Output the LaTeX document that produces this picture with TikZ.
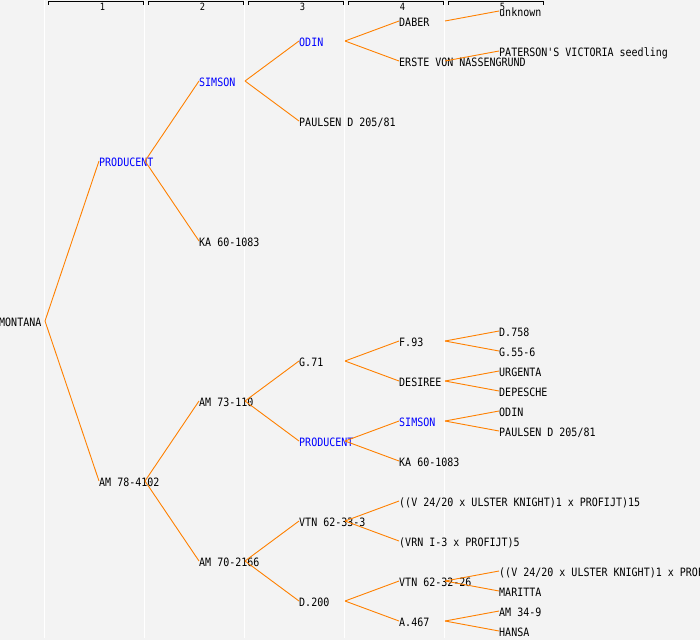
\documentclass[tikz,border=0pt]{standalone}
\usepackage{xcolor}
\usepackage{fontspec}
\newfontfamily\pedfont[FakeStretch=0.87]{DejaVu Sans Mono}
\usepackage{tikz}
\definecolor{linkorange}{RGB}{255,128,0}
\definecolor{colback}{RGB}{243,243,243}
\tikzstyle{var} = [anchor=west, inner sep=0pt,
    text height=10pt, text depth=0pt, font=\pedfont\fontsize{11.5}{12}\selectfont]
\tikzstyle{dup} = [var, text=blue]
\tikzstyle{link} = [draw=linkorange, line width=0.9pt]
\tikzstyle{sep} = [draw=white, line width=1pt]
\tikzstyle{bracket} = [draw=black, line width=0.9pt]
\tikzstyle{gen} = [anchor=base, inner sep=0pt, font=\pedfont\fontsize{10}{10}\selectfont]
\usetikzlibrary{calc}

\begin{document}
\begin{tikzpicture}[x=1pt,y=-1pt]
    \fill[colback] (0,0) rectangle (700,640);
    \useasboundingbox (0,0) rectangle (700,640);

    \draw[sep] (44.5,0) -- (44.5,637.5);
    \draw[sep] (144.5,0) -- (144.5,637.5);
    \draw[sep] (244.5,0) -- (244.5,637.5);
    \draw[sep] (344.5,0) -- (344.5,637.5);
    \draw[sep] (444.5,0) -- (444.5,637.5);

    \draw[bracket] (48,4.5) -- (48,1.5) -- (143,1.5) -- (143,4.5);
    \draw[bracket] (148,4.5) -- (148,1.5) -- (243,1.5) -- (243,4.5);
    \draw[bracket] (248,4.5) -- (248,1.5) -- (343,1.5) -- (343,4.5);
    \draw[bracket] (348,4.5) -- (348,1.5) -- (443,1.5) -- (443,4.5);
    \draw[bracket] (448,4.5) -- (448,1.5) -- (543,1.5) -- (543,4.5);
    \node[gen] (gen1) at (102.5,10) {1};
    \node[gen] (gen2) at (202.5,10) {2};
    \node[gen] (gen3) at (302.5,10) {3};
    \node[gen] (gen4) at (402.5,10) {4};
    \node[gen] (gen5) at (502.5,10) {5};

    \node[var] (montana) at (-1,321) {MONTANA};

    \node[dup] (producent) at (99,161) {PRODUCENT};
    \node[var] (am78) at (99,481) {AM 78-4102};

    \node[dup] (simson) at (199,81) {SIMSON};
    \node[var] (ka60) at (199,241) {KA 60-1083};
    \node[var] (am73) at (199,401) {AM 73-110};
    \node[var] (am70) at (199,561) {AM 70-2166};

    \node[dup] (odin) at (299,41) {ODIN};
    \node[var] (paulsen) at (299,121) {PAULSEN D 205/81};
    \node[var] (g71) at (299,361) {G.71};
    \node[dup] (producentb) at (299,441) {PRODUCENT};
    \node[var] (vtn33) at (299,521) {VTN 62-33-3};
    \node[var] (d200) at (299,601) {D.200};

    \node[var] (daber) at (399,21) {DABER};
    \node[var] (erste) at (399,61) {ERSTE VON NASSENGRUND};
    \node[var] (f93) at (399,341) {F.93};
    \node[var] (desiree) at (399,381) {DESIREE};
    \node[dup] (simsonb) at (399,421) {SIMSON};
    \node[var] (ka60b) at (399,461) {KA 60-1083};
    \node[var] (vulster) at (399,501) {((V 24/20 x ULSTER KNIGHT)1 x PROFIJT)15};
    \node[var] (vrn) at (399,541) {(VRN I-3 x PROFIJT)5};
    \node[var] (vtn32) at (399,581) {VTN 62-32-26};
    \node[var] (a467) at (399,621) {A.467};

    \node[var] (unknown) at (499,11) {unknown};
    \node[var] (paterson) at (499,51) {PATERSON'S VICTORIA seedling};
    \node[var] (d758) at (499,331) {D.758};
    \node[var] (g55) at (499,351) {G.55-6};
    \node[var] (urgenta) at (499,371) {URGENTA};
    \node[var] (depesche) at (499,391) {DEPESCHE};
    \node[var] (odinb) at (499,411) {ODIN};
    \node[var] (paulsenb) at (499,431) {PAULSEN D 205/81};
    \node[var] (vulsterb) at (499,571) {((V 24/20 x ULSTER KNIGHT)1 x PROF};
    \node[var] (maritta) at (499,591) {MARITTA};
    \node[var] (am34) at (499,611) {AM 34-9};
    \node[var] (hansa) at (499,631) {HANSA};

    \draw[link] ([xshift=46pt]montana.west) -- (producent.west);
    \draw[link] ([xshift=46pt]montana.west) -- (am78.west);

    \draw[link] ([xshift=46pt]producent.west) -- (simson.west);
    \draw[link] ([xshift=46pt]producent.west) -- (ka60.west);
    \draw[link] ([xshift=46pt]am78.west) -- (am73.west);
    \draw[link] ([xshift=46pt]am78.west) -- (am70.west);

    \draw[link] ([xshift=46pt]simson.west) -- (odin.west);
    \draw[link] ([xshift=46pt]simson.west) -- (paulsen.west);
    \draw[link] ([xshift=46pt]am73.west) -- (g71.west);
    \draw[link] ([xshift=46pt]am73.west) -- (producentb.west);
    \draw[link] ([xshift=46pt]am70.west) -- (vtn33.west);
    \draw[link] ([xshift=46pt]am70.west) -- (d200.west);

    \draw[link] ([xshift=46pt]odin.west) -- (daber.west);
    \draw[link] ([xshift=46pt]odin.west) -- (erste.west);
    \draw[link] ([xshift=46pt]g71.west) -- (f93.west);
    \draw[link] ([xshift=46pt]g71.west) -- (desiree.west);
    \draw[link] ([xshift=46pt]producentb.west) -- (simsonb.west);
    \draw[link] ([xshift=46pt]producentb.west) -- (ka60b.west);
    \draw[link] ([xshift=46pt]vtn33.west) -- (vulster.west);
    \draw[link] ([xshift=46pt]vtn33.west) -- (vrn.west);
    \draw[link] ([xshift=46pt]d200.west) -- (vtn32.west);
    \draw[link] ([xshift=46pt]d200.west) -- (a467.west);

    \draw[link] ([xshift=46pt]daber.west) -- (unknown.west);
    \draw[link] ([xshift=46pt]erste.west) -- (paterson.west);
    \draw[link] ([xshift=46pt]f93.west) -- (d758.west);
    \draw[link] ([xshift=46pt]f93.west) -- (g55.west);
    \draw[link] ([xshift=46pt]desiree.west) -- (urgenta.west);
    \draw[link] ([xshift=46pt]desiree.west) -- (depesche.west);
    \draw[link] ([xshift=46pt]simsonb.west) -- (odinb.west);
    \draw[link] ([xshift=46pt]simsonb.west) -- (paulsenb.west);
    \draw[link] ([xshift=46pt]vtn32.west) -- (vulsterb.west);
    \draw[link] ([xshift=46pt]vtn32.west) -- (maritta.west);
    \draw[link] ([xshift=46pt]a467.west) -- (am34.west);
    \draw[link] ([xshift=46pt]a467.west) -- (hansa.west);
  \end{tikzpicture}
\end{document}
